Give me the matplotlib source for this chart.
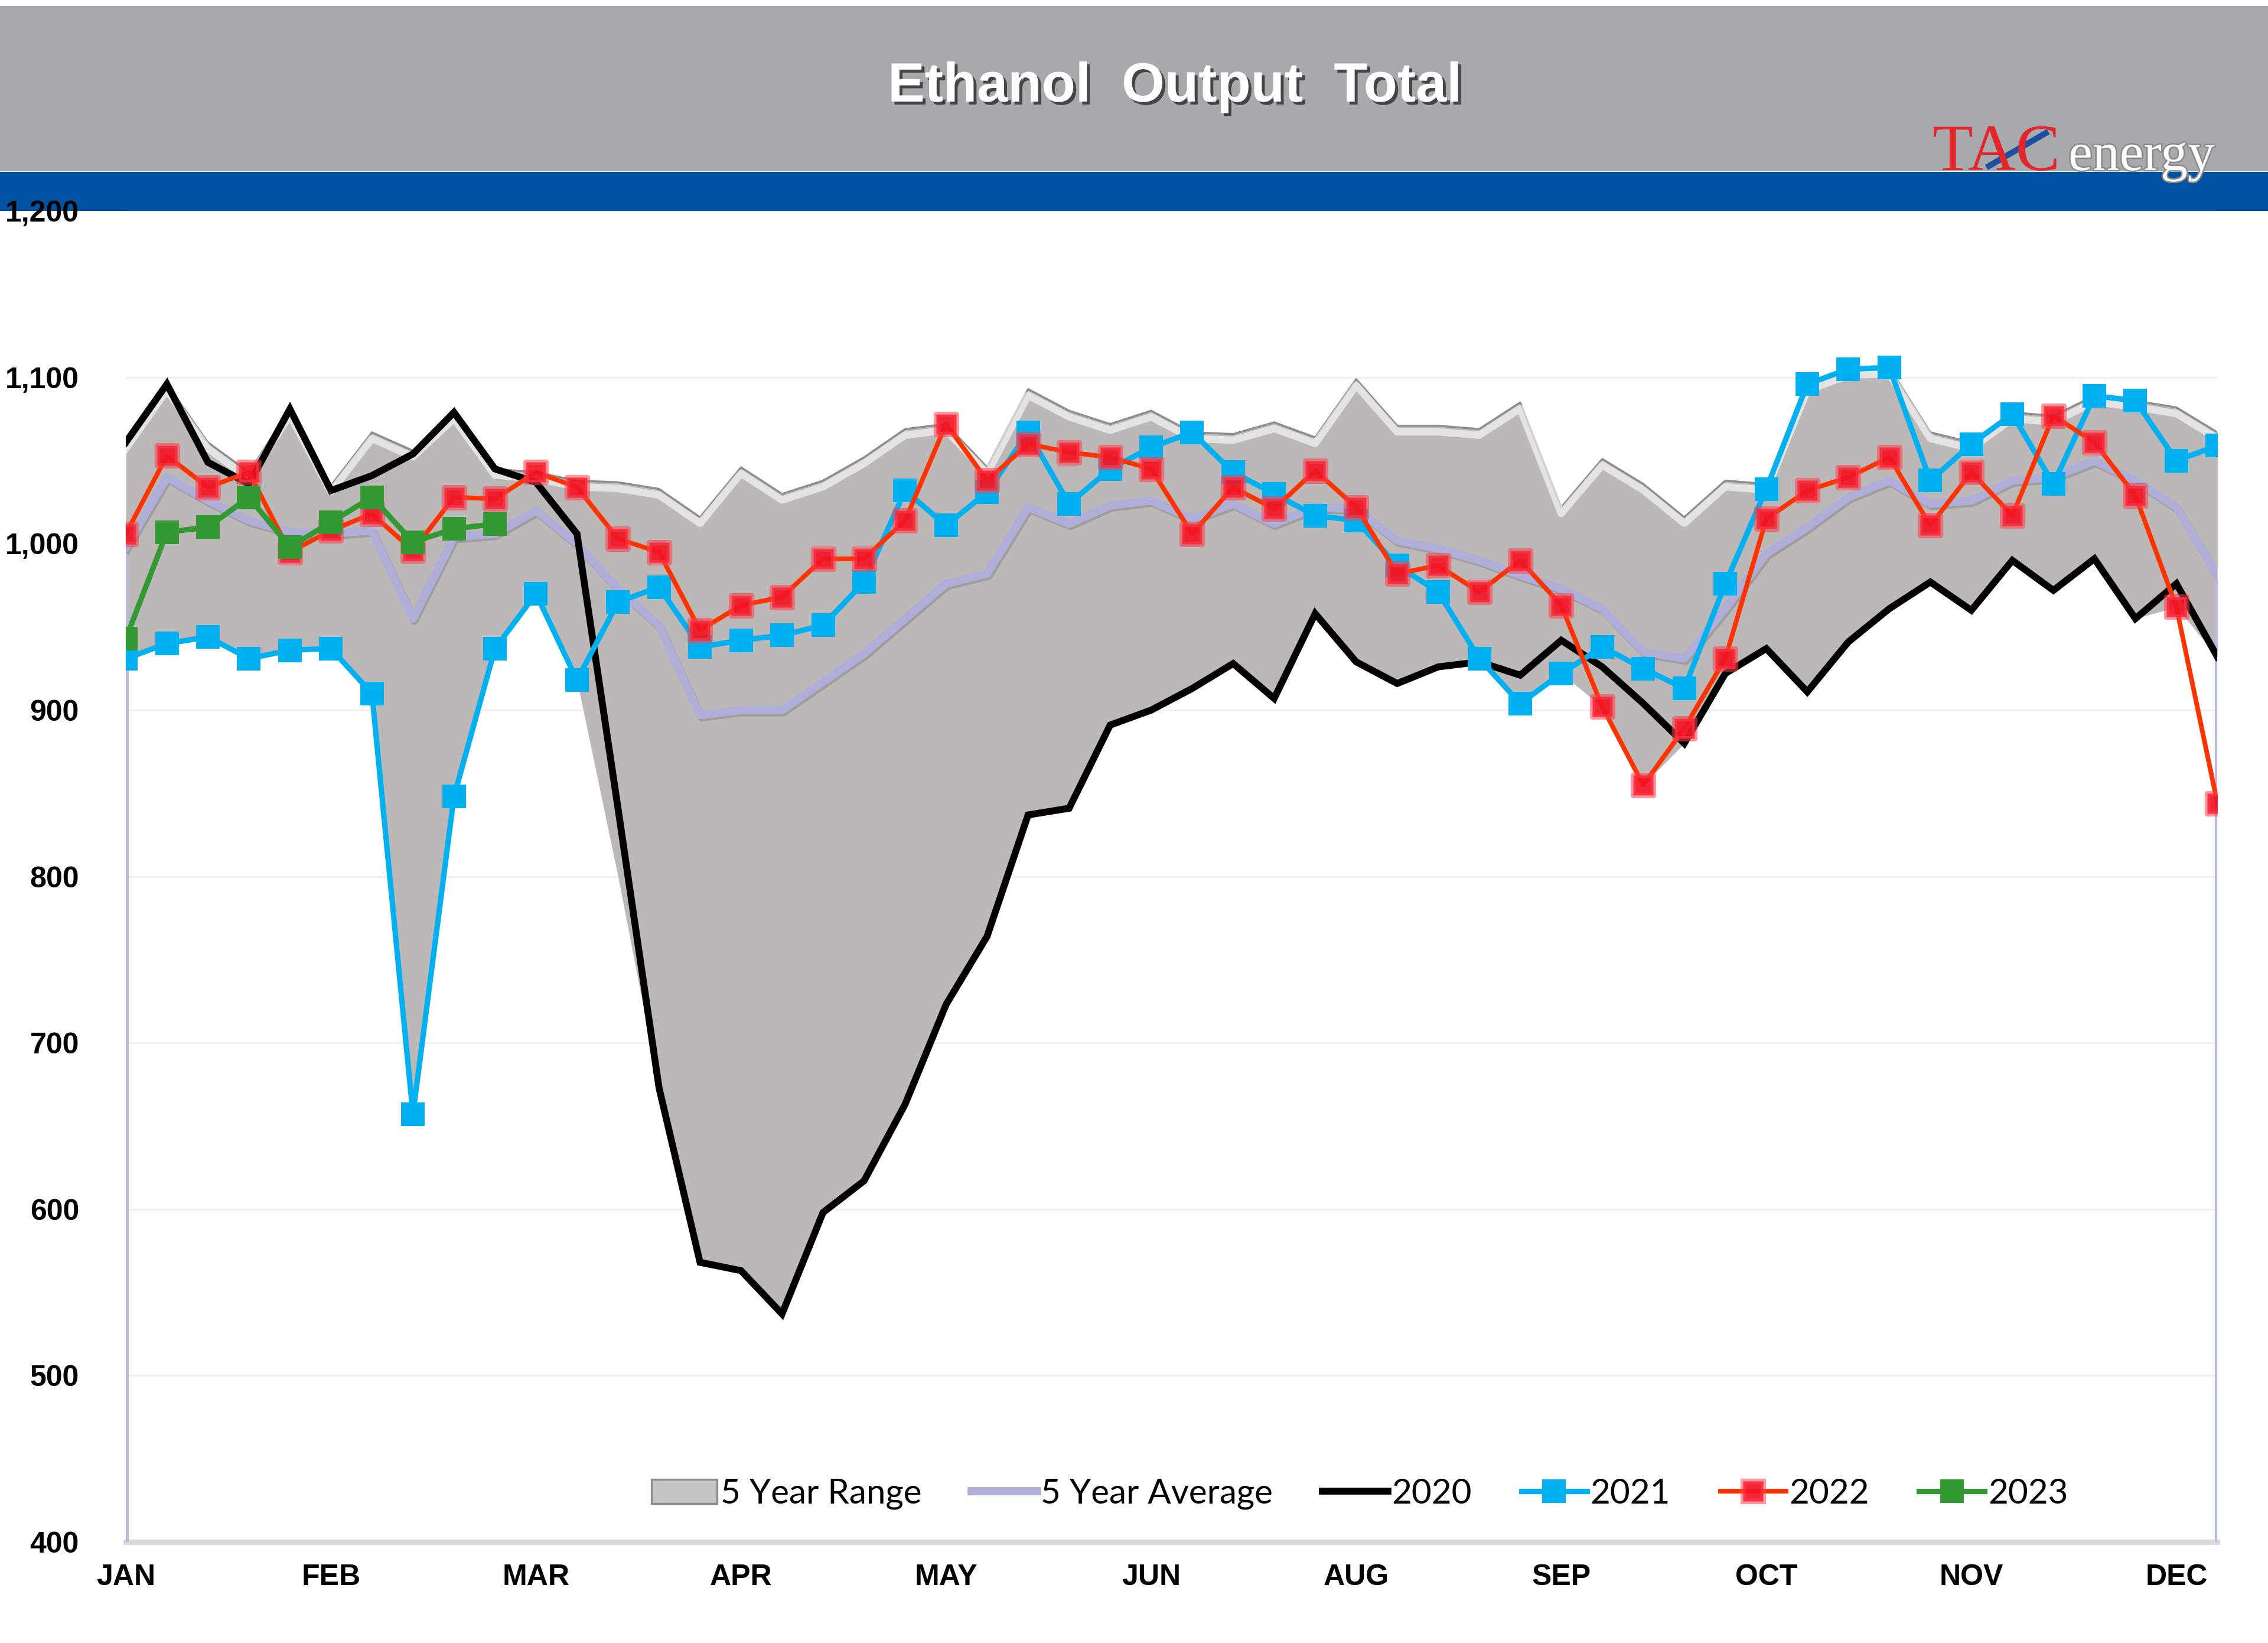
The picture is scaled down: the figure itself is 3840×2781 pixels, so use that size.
import numpy as np
import matplotlib
matplotlib.use('Agg')
from matplotlib import pyplot as plt
from matplotlib.patches import Rectangle, Patch
from matplotlib.lines import Line2D
from matplotlib.markers import MarkerStyle
from matplotlib import transforms
import matplotlib.patheffects as pe

# weekly ethanol output (kb/d)
months = ['JAN', 'FEB', 'MAR', 'APR', 'MAY', 'JUN', 'AUG', 'SEP', 'OCT', 'NOV', 'DEC']

range_hi = [1061, 1096, 1061, 1043, 1081, 1035, 1067, 1056, 1079, 1045,
            1043, 1038, 1037, 1033, 1016, 1046, 1030, 1038, 1052, 1069,
            1072, 1046, 1093, 1080, 1072, 1080, 1067, 1066, 1073, 1064,
            1099, 1071, 1071, 1069, 1085, 1022, 1051, 1036, 1016, 1038,
            1036, 1096, 1105, 1106, 1067, 1061, 1079, 1077, 1089, 1086,
            1082, 1067]
range_lo = [931, 940, 944, 931, 936, 937, 910, 657, 848, 937,
            970, 918, 800, 673, 568, 563, 537, 598, 617, 663,
            723, 764, 837, 841, 891, 900, 913, 928, 907, 958,
            929, 916, 926, 929, 904, 922, 902, 855, 880, 922,
            937, 911, 941, 961, 977, 960, 990, 972, 991, 955,
            962, 932]
avg5 = [998, 1040, 1026, 1014, 1007, 1006, 1008, 955, 1004, 1006,
        1020, 1000, 973, 951, 897, 900, 900, 917, 934, 955,
        976, 982, 1022, 1012, 1023, 1026, 1015, 1024, 1012, 1022,
        1021, 1002, 997, 990, 981, 973, 961, 935, 931, 961,
        994, 1010, 1028, 1038, 1024, 1026, 1038, 1040, 1050, 1038,
        1022, 981]
y2020 = [1061, 1096, 1049, 1036, 1081, 1032, 1041, 1054, 1079, 1045,
         1037, 1006, 841, 673, 568, 563, 537, 598, 617, 663,
         723, 764, 837, 841, 891, 900, 913, 928, 907, 958,
         929, 916, 926, 929, 921, 942, 926, 904, 880, 922,
         937, 911, 941, 961, 977, 960, 990, 972, 991, 955,
         976, 932]
y2021 = [931, 940, 944, 931, 936, 937, 910, 657, 848, 937,
         970, 918, 965, 974, 938, 942, 945, 951, 977, 1032,
         1011, 1031, 1067, 1024, 1045, 1058, 1067, 1043, 1030, 1017,
         1014, 987, 971, 931, 904, 922, 938, 925, 913, 976,
         1033, 1096, 1105, 1106, 1038, 1060, 1078, 1036, 1089, 1086,
         1050, 1059]
y2022 = [1006, 1053, 1034, 1043, 995, 1008, 1018, 996, 1028, 1027,
         1043, 1034, 1003, 995, 948, 963, 968, 991, 991, 1014,
         1072, 1038, 1060, 1055, 1052, 1045, 1006, 1034, 1021, 1044,
         1022, 982, 987, 971, 990, 963, 902, 855, 889, 931,
         1015, 1032, 1040, 1052, 1011, 1043, 1017, 1077, 1061, 1029,
         962, 844]
y2023 = [943, 1007, 1010, 1028, 998, 1013, 1028, 1001, 1009, 1012]

weeks = np.arange(len(avg5))
ymin, ymax = 400, 1200

fig = plt.figure(figsize=(12.8, 9.27), dpi=300)

# header bands
fig.patches.append(Rectangle((0, 0.8957), 1, 0.1007, transform=fig.transFigure,
                             facecolor='#A7A9AC', edgecolor='none', zorder=-2))
fig.patches.append(Rectangle((0, 0.8716), 1, 0.0237, transform=fig.transFigure,
                             facecolor='#0053A3', edgecolor='none', zorder=-2))

fig.text(0.518, 0.947, 'Ethanol  Output  Total', color='white', fontsize=22.5,
         fontweight='bold', family='Liberation Sans', ha='center', va='center',
         path_effects=[pe.withSimplePatchShadow(offset=(1.2, -1.2), shadow_rgbFace='#3a3a3a', alpha=0.9)])

# logo
fig.text(0.852, 0.8965, 'TAC', color='#E3262B', fontsize=27, family='Liberation Serif',
         ha='left', va='baseline')
fig.text(0.912, 0.8965, 'energy', color='white', fontsize=22, family='Liberation Serif',
         ha='left', va='baseline',
         path_effects=[pe.withStroke(linewidth=1.2, foreground='#8a8a8a')])
fig.add_artist(Line2D([0.877, 0.902], [0.899, 0.919], transform=fig.transFigure,
                      color='#1D4F9F', lw=2.4))

ax = fig.add_axes([0.0555, 0.0616, 0.9222, 0.8099])

# 5 year range
ax.fill_between(weeks, range_lo, range_hi, color='#BCB8B7', lw=0, zorder=1)
ax.plot(weeks, range_hi, color='#8E8C8C', lw=0.8, zorder=2)
shift = transforms.ScaledTranslation(0, -2.5 / 72, fig.dpi_scale_trans)
ax.plot(weeks, range_hi, color='white', lw=3, alpha=0.6, zorder=2,
        transform=ax.transData + shift)

# 5 year average (with the end drops excel draws)
ax.vlines([weeks[0], weeks[-1]], ymin, [avg5[0], avg5[-1]], color='#B9B9DC', lw=2.2, zorder=3)
ax.plot(weeks, avg5, color='#AEAED8', lw=3.3, zorder=3, solid_joinstyle='round',
        path_effects=[pe.SimpleLineShadow(offset=(0.6, -0.9), shadow_color='#777777', alpha=0.4),
                      pe.Normal()])

ax.plot(weeks, y2020, color='black', lw=2.8, zorder=4, solid_joinstyle='miter')
ax.plot(weeks, y2021, color='#00B0F0', lw=2.2, marker='s', ms=9.5, mfc='#00B0F0',
        mec='#00B0F0', mew=0, zorder=5)
ax.plot(weeks, y2022, color='#FF3300', lw=1.9, marker=MarkerStyle('s', joinstyle='round'),
        ms=8, mfc=(0.95, 0.08, 0.14, 0.92), mec=(1.0, 0.25, 0.3, 0.55), mew=2.2, zorder=6)
ax.plot(weeks[:len(y2023)], y2023, color='#339933', lw=2.2, marker='s', ms=9.5,
        mfc='#339933', mec='#339933', mew=0, zorder=7)

ax.set_xlim(weeks[0], weeks[-1])
ax.set_ylim(ymin, ymax)
ax.set_yticks(np.arange(ymin, ymax + 1, 100))
ax.set_yticklabels(['{:,}'.format(v) for v in range(ymin, ymax + 1, 100)])
ax.set_xticks(weeks[::5])
ax.set_xticklabels(months)
ax.tick_params(axis='both', length=0, labelsize=12)
ax.tick_params(axis='y', pad=19)
ax.tick_params(axis='x', pad=9)
for lab in ax.get_xticklabels() + ax.get_yticklabels():
    lab.set_fontweight('bold')
    lab.set_family('Liberation Sans')
for s in ['top', 'right', 'left']:
    ax.spines[s].set_visible(False)
ax.spines['bottom'].set_color('#D9D9D9')
ax.spines['bottom'].set_linewidth(2.2)
ax.grid(axis='y', color='#F0F0F0', lw=0.8)
ax.set_axisbelow(True)

handles = [
    Patch(facecolor='#C4C4C4', edgecolor='#8C8C8C', lw=0.8),
    Line2D([], [], color='#AEAED8', lw=3.3),
    Line2D([], [], color='black', lw=2.8),
    Line2D([], [], color='#00B0F0', lw=2.2, marker='s', ms=9.5, mew=0),
    Line2D([], [], color='#FF3300', lw=1.9, marker='s', ms=8, mfc=(0.95, 0.08, 0.14, 0.92),
           mec=(1.0, 0.25, 0.3, 0.55), mew=2.2),
    Line2D([], [], color='#339933', lw=2.2, marker='s', ms=9.5, mew=0),
]
labels = ['5 Year Range', '5 Year Average', '2020', '2021', '2022', '2023']
leg = ax.legend(handles, labels, loc='center', bbox_to_anchor=(0.59, 0.036), ncol=6,
                frameon=False, handlelength=1.9, handletextpad=0.1, columnspacing=1.45,
                prop={'family': 'Lato', 'size': 14})

fig.savefig('out.png', dpi=300, facecolor='white')
